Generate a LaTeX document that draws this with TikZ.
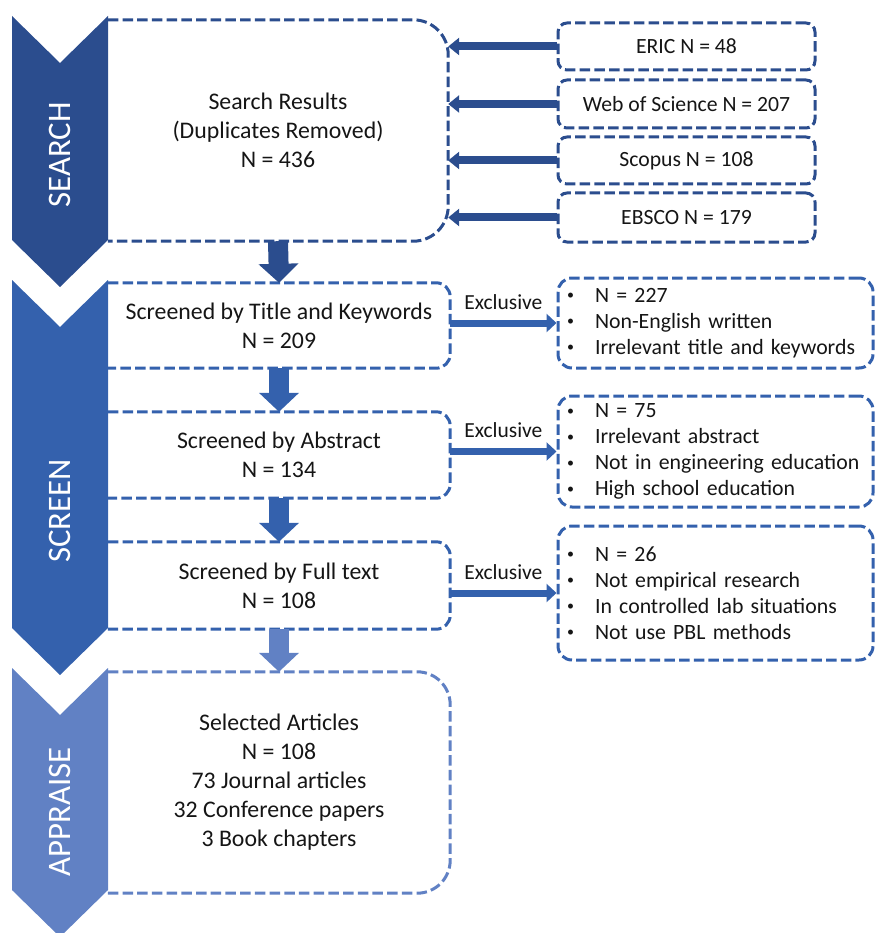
\documentclass[tikz,border=0pt]{standalone}
\usepackage{fontspec}
\setmainfont{Carlito}
\usetikzlibrary{arrows.meta}
\definecolor{cdark}{HTML}{2B4D8E}
\definecolor{cmid}{HTML}{3461AD}
\definecolor{clight}{HTML}{6181C4}
\definecolor{ctext}{HTML}{151515}
\newcommand\bl{\makebox[28pt][l]{\raisebox{2.4pt}{\fontsize{14}{14}\selectfont\textbullet}}}
\begin{document}
\begin{tikzpicture}[x=1pt,y=-1pt,
  every node/.style={text=ctext},
  mainarea/.style={inner sep=0pt, draw=none, align=center, minimum width=340pt,
    font=\fontsize{23.8}{29}\selectfont},
  border/.style={line width=3pt, dash pattern=on 10.5pt off 4.2pt, rounded corners=#1},
  srcbox/.style={draw=cdark, border=9pt, minimum width=257pt, minimum height=47pt,
    inner sep=0pt, font=\fontsize{21.7}{26}\selectfont},
  exbox/.style={draw=cmid, border=14pt, text width=297pt, inner xsep=9pt, inner ysep=0pt,
    align=left, font=\fontsize{21.8}{26}\selectfont},
  downarrow/.style={line width=20pt, -{Triangle[width=39pt,length=19pt]}},
  srcarrow/.style={draw=cdark, line width=8pt, -{Triangle[width=17pt,length=11pt]}},
  exarrow/.style={draw=cmid, line width=7pt, -{Triangle[width=18pt,length=10pt]}},
  exlabel/.style={midway, above=7pt, font=\fontsize{21.5}{26}\selectfont},
  stage/.style={rotate=90, text=white, font=\fontsize{32.8}{36}\selectfont},
]
\useasboundingbox (0,0) rectangle (875,933);

% main boxes
\node[mainarea, minimum height=221pt] (sr) at (278,130.5)
  {Search Results\\(Duplicates Removed)\\N = 436};
\node[mainarea, minimum width=342pt, minimum height=85pt] (t1) at (279,325.5)
  {Screened by Title and Keywords\\N = 209};
\node[mainarea, minimum width=342pt, minimum height=86pt] (t2) at (279,455)
  {Screened by Abstract\\N = 134};
\node[mainarea, minimum width=342pt, minimum height=87pt] (t3) at (279,585.5)
  {Screened by Full text\\N = 108};
\node[mainarea, minimum width=342pt, minimum height=221pt] (ap) at (279,782.5)
  {Selected Articles\\N = 108\\73 Journal articles\\32 Conference papers\\3 Book chapters};

\draw[cdark, border=35pt] (sr.north west) -- (sr.north east) -- (sr.south east) -- (sr.south west);
\draw[cmid, border=14pt] (t1.north west) -- (t1.north east) -- (t1.south east) -- (t1.south west);
\draw[cmid, border=14pt] (t2.north west) -- (t2.north east) -- (t2.south east) -- (t2.south west);
\draw[cmid, border=14pt] (t3.north west) -- (t3.north east) -- (t3.south east) -- (t3.south west);
\draw[clight, border=33pt] (ap.north west) -- (ap.north east) -- (ap.south east) -- (ap.south west);

% source boxes
\node[srcbox] (eric) at (686.5,46.5) {ERIC N = 48};
\node[srcbox, minimum height=48pt] (wos) at (686.5,104) {Web of Science N = 207};
\node[srcbox] (scopus) at (686.5,160.5) {Scopus N = 108};
\node[srcbox, minimum height=49pt] (ebsco) at (686.5,217.5) {EBSCO N = 179};

\draw[srcarrow] (eric.west) -- (eric.west -| sr.east);
\draw[srcarrow] (wos.west) -- (wos.west -| sr.east);
\draw[srcarrow] (scopus.west) -- (scopus.west -| sr.east);
\draw[srcarrow] (ebsco.west) -- (ebsco.west -| sr.east);

% exclusion boxes
\node[exbox, minimum height=90pt] (ex1) at (715.5,323)
  {\bl N = 227\\\bl Non-English written\\\bl Irrelevant title and keywords};
\node[exbox, minimum height=111pt] (ex2) at (715.5,451.5)
  {\bl N = 75\\\bl Irrelevant abstract\\\bl Not in engineering education\\\bl High school education};
\node[exbox, minimum height=134pt] (ex3) at (715.5,593)
  {\bl N = 26\\\bl Not empirical research\\\bl In controlled lab situations\\\bl Not use PBL methods};

\draw[exarrow] (ex1.west -| t1.east) -- node[exlabel] {Exclusive} (ex1.west);
\draw[exarrow] (ex2.west -| t2.east) -- node[exlabel] {Exclusive} (ex2.west);
\draw[exarrow] (ex3.west -| t3.east) -- node[exlabel] {Exclusive} (ex3.west);

% down arrows
\draw[downarrow, cdark] (sr.south) -- (t1.north);
\draw[downarrow, cmid] (t1.south) -- (t2.north);
\draw[downarrow, cmid] (t2.south) -- (t3.north);
\draw[downarrow, clight] (t3.south) -- (ap.north);

% stage chevrons
\fill[cdark] (12,16) -- (60,63) -- (108,16) -- (108,240) -- (60,287) -- (12,240) -- cycle;
\fill[cmid] (12,280) -- (60,327) -- (108,280) -- (108,628) -- (60,675) -- (12,628) -- cycle;
\fill[clight] (12,668) -- (60,715) -- (108,668) -- (108,890) -- (60,937) -- (12,890) -- cycle;
\node[stage] (s1) at (60,155) {SEARCH};
\node[stage] (s2) at (60,511) {SCREEN};
\node[stage] (s3) at (60,812) {APPRAISE};
\end{tikzpicture}
\end{document}
